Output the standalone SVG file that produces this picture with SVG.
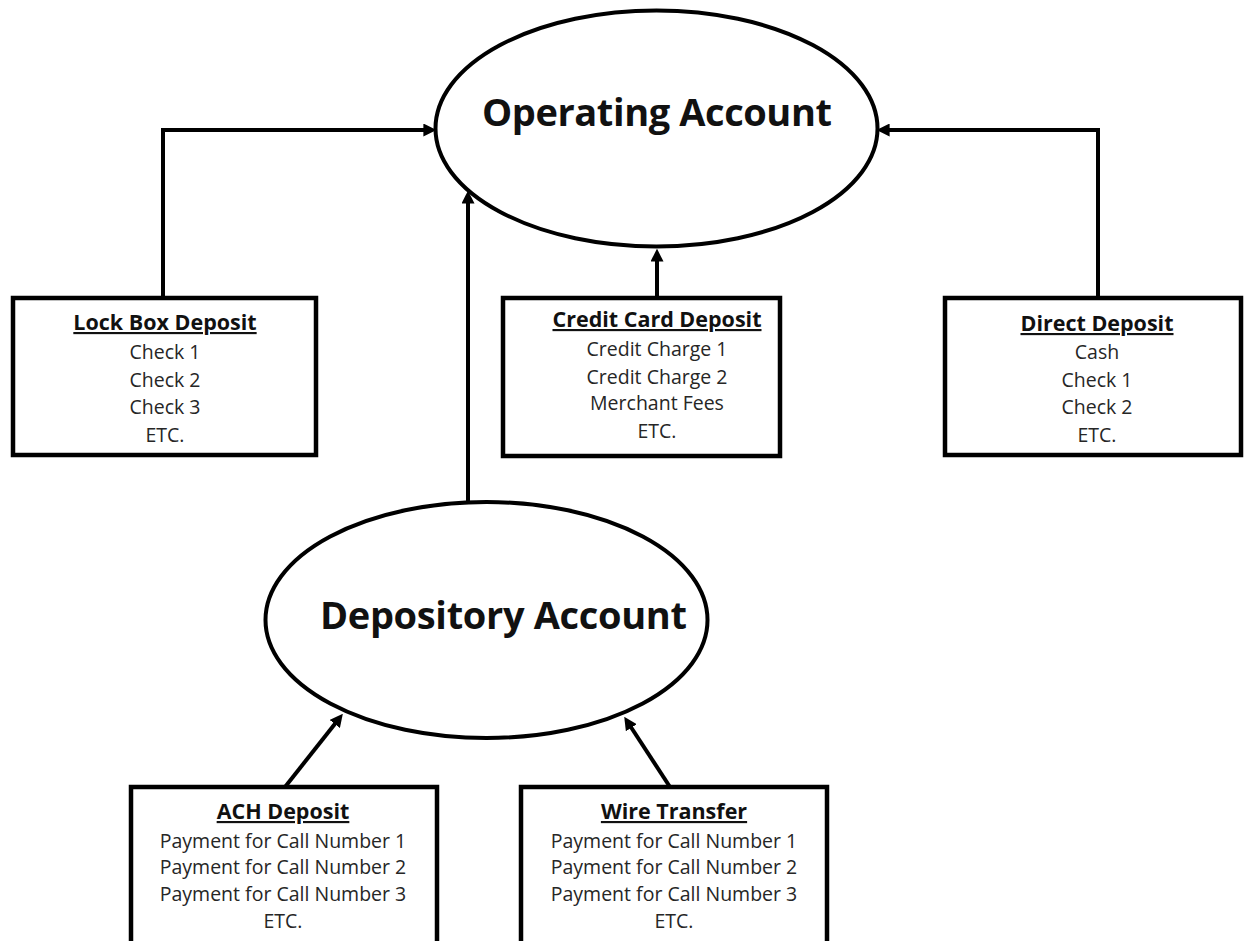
<svg xmlns="http://www.w3.org/2000/svg" width="1244" height="941" viewBox="0 0 1244 941">
<style>
.box{fill:#fff;stroke:#000;stroke-width:4.5}
.ell{fill:#fff;stroke:#000;stroke-width:4}
.con{fill:none;stroke:#000;stroke-width:4;marker-end:url(#ah)}
.big{font-family:"Open Sans","Liberation Sans",sans-serif;font-weight:bold;font-size:38px;fill:#111}
.ttl{font-family:"Open Sans","Liberation Sans",sans-serif;font-weight:bold;font-size:21.5px;fill:#111;text-decoration:underline;text-anchor:middle}
.itm{font-family:"Open Sans","Liberation Sans",sans-serif;font-size:19.5px;fill:#262626;text-anchor:middle}
</style>
<defs>
<marker id="ah" markerUnits="userSpaceOnUse" markerWidth="13" markerHeight="13" viewBox="0 0 10 10" refX="2" refY="5" orient="auto">
<path d="M0,0 L10,5 L0,10 z" fill="#000"/>
</marker>
</defs>
<rect width="1244" height="941" fill="#fff"/>
<g id="connectors">
<path class="con" d="M163,298 V130 H426"/>
<path class="con" d="M1098,298 V130 H887"/>
<path class="con" d="M657,298 V259"/>
<path class="con" d="M468,502 V201"/>
<path class="con" d="M285,787 L336.4,722"/>
<path class="con" d="M670,787 L629.9,725.5"/>
</g>
<g id="operating-account">
<ellipse class="ell" cx="656.5" cy="128.5" rx="221" ry="118"/>
<text class="big" x="657" y="126" text-anchor="middle" textLength="350">Operating Account</text>
</g>
<g id="depository-account">
<ellipse class="ell" cx="486.5" cy="620" rx="221" ry="118"/>
<text class="big" x="503.5" y="629" text-anchor="middle" textLength="367">Depository Account</text>
</g>
<g id="lock-box-deposit">
<rect class="box" x="13" y="298" width="303" height="157"/>
<text class="ttl" x="165" y="330">Lock Box Deposit</text>
<text class="itm" x="165" y="359">Check 1</text>
<text class="itm" x="165" y="387">Check 2</text>
<text class="itm" x="165" y="414">Check 3</text>
<text class="itm" x="165" y="442">ETC.</text>
</g>
<g id="credit-card-deposit">
<rect class="box" x="503" y="298" width="277" height="158"/>
<text class="ttl" x="657" y="327">Credit Card Deposit</text>
<text class="itm" x="657" y="356">Credit Charge 1</text>
<text class="itm" x="657" y="384">Credit Charge 2</text>
<text class="itm" x="657" y="410">Merchant Fees</text>
<text class="itm" x="657" y="438">ETC.</text>
</g>
<g id="direct-deposit">
<rect class="box" x="945" y="298" width="296" height="157"/>
<text class="ttl" x="1097" y="331">Direct Deposit</text>
<text class="itm" x="1097" y="359">Cash</text>
<text class="itm" x="1097" y="387">Check 1</text>
<text class="itm" x="1097" y="414">Check 2</text>
<text class="itm" x="1097" y="442">ETC.</text>
</g>
<g id="ach-deposit">
<rect class="box" x="131" y="787" width="306" height="170"/>
<text class="ttl" x="283" y="819">ACH Deposit</text>
<text class="itm" x="283" y="848">Payment for Call Number 1</text>
<text class="itm" x="283" y="874">Payment for Call Number 2</text>
<text class="itm" x="283" y="901">Payment for Call Number 3</text>
<text class="itm" x="283" y="928">ETC.</text>
</g>
<g id="wire-transfer">
<rect class="box" x="521" y="787" width="306" height="170"/>
<text class="ttl" x="674" y="819">Wire Transfer</text>
<text class="itm" x="674" y="848">Payment for Call Number 1</text>
<text class="itm" x="674" y="874">Payment for Call Number 2</text>
<text class="itm" x="674" y="901">Payment for Call Number 3</text>
<text class="itm" x="674" y="928">ETC.</text>
</g>
</svg>
